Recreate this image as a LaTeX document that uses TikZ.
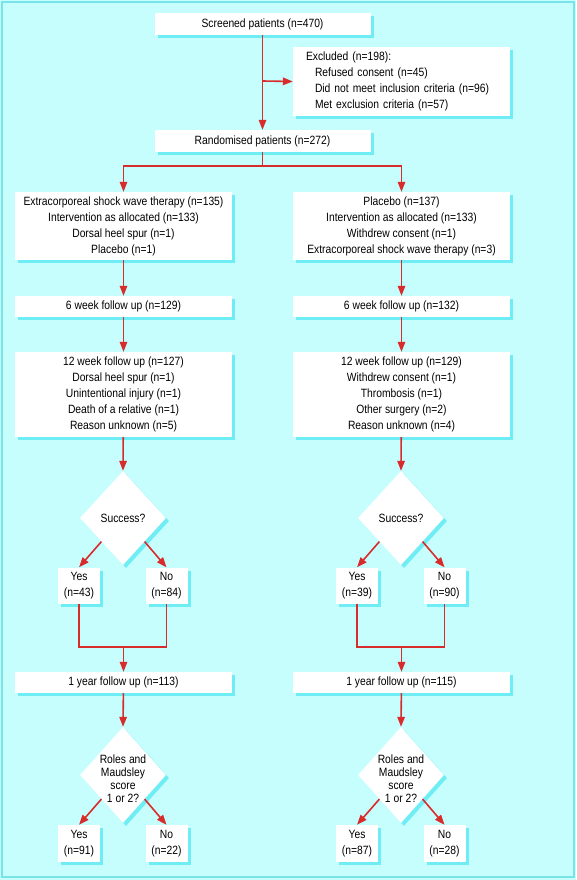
\documentclass[tikz,border=0pt]{standalone}
\usepackage{fontspec}
\setmainfont{Liberation Sans}[FakeStretch=0.86]
\usetikzlibrary{shapes.geometric,arrows.meta,shadows}
\definecolor{bgc}{HTML}{C6FEFE}
\definecolor{shc}{HTML}{6EEEF4}
\definecolor{brc}{HTML}{78E4E8}
\definecolor{arc}{HTML}{D82C2C}
\begin{document}
\begin{tikzpicture}[x=1pt,y=-1pt,
 txt/.style={font=\fontsize{12}{16}\selectfont},
 shad/.style={drop shadow={shadow xshift=3pt,shadow yshift=-3pt,fill=shc,opacity=1}},
 box/.style={txt, fill=white, inner sep=0pt, align=center, shad},
 wbox/.style={box, minimum width=217pt},
 yn/.style={box, minimum width=42pt, minimum height=36pt},
 dia/.style={shape=diamond, fill=white, inner sep=0pt, minimum width=86pt, minimum height=94pt, shad},
 dtxt/.style={font=\fontsize{12}{13}\selectfont, align=center, inner sep=0pt},
 arr/.style={draw=arc, line width=1.6pt, -{Triangle[length=10pt,width=7.5pt]}},
 lnk/.style={draw=arc, line width=1.6pt}]
\useasboundingbox (0,0) rectangle (576,880);
\fill[bgc] (0,0) rectangle (576,880);
\draw[brc, line width=2pt] (2,2) rectangle (574,877);

% top
\node[box, minimum width=216pt, minimum height=22pt] (scr) at (262.5,24) {Screened patients (n=470)};
\node[box, align=left, text width=191pt, inner xsep=13pt, minimum height=69pt] (exc) at (401.5,81.5)
 {Excluded (n=198):\\\hspace*{9pt}Refused consent (n=45)\\\hspace*{9pt}Did not meet inclusion criteria (n=96)\\\hspace*{9pt}Met exclusion criteria (n=57)};
\node[box, minimum width=216pt, minimum height=22pt] (rnd) at (262.5,141) {Randomised patients (n=272)};
\coordinate (b1) at (262.5,81);
\coordinate (sp) at (262.5,166);

% left column
\node[wbox, minimum height=68pt] (l1) at (123.5,226) {Extracorporeal shock wave therapy (n=135)\\Intervention as allocated (n=133)\\Dorsal heel spur (n=1)\\Placebo (n=1)};
\node[wbox, minimum height=21pt] (l6) at (123.5,306.5) {6 week follow up (n=129)};
\node[wbox, minimum height=85pt] (l12) at (123.5,394.5) {12 week follow up (n=127)\\Dorsal heel spur (n=1)\\Unintentional injury (n=1)\\Death of a relative (n=1)\\Reason unknown (n=5)};
\node[dia] (ld1) at (123,518) {};
\node[dtxt] (ld1t) at (ld1) {Success?};
\node[yn] (ly1) at (79,585.5) {Yes\\(n=43)};
\node[yn] (ln1) at (166.5,585.5) {No\\(n=84)};
\coordinate (lm) at (123.5,647);
\node[wbox, minimum height=21pt] (ly) at (123.5,682.5) {1 year follow up (n=113)};
\node[dia, minimum height=96pt] (ld2) at (123,775) {};
\node[dtxt] (ld2t) at (123,779) {Roles and\\Maudsley\\score\\1 or 2?};
\node[yn, minimum height=37pt] (ly2) at (79,843.5) {Yes\\(n=91)};
\node[yn, minimum height=37pt] (ln2) at (166.5,843.5) {No\\(n=22)};

% right column
\node[wbox, minimum height=68pt] (r1) at (401.5,226) {Placebo (n=137)\\Intervention as allocated (n=133)\\Withdrew consent (n=1)\\Extracorporeal shock wave therapy (n=3)};
\node[wbox, minimum height=21pt] (r6) at (401.5,306.5) {6 week follow up (n=132)};
\node[wbox, minimum height=85pt] (r12) at (401.5,394.5) {12 week follow up (n=129)\\Withdrew consent (n=1)\\Thrombosis (n=1)\\Other surgery (n=2)\\Reason unknown (n=4)};
\node[dia] (rd1) at (401,518) {};
\node[dtxt] (rd1t) at (rd1) {Success?};
\node[yn] (ry1) at (357,585.5) {Yes\\(n=39)};
\node[yn] (rn1) at (444.5,585.5) {No\\(n=90)};
\coordinate (rm) at (401.5,647);
\node[wbox, minimum height=21pt] (ry) at (401.5,682.5) {1 year follow up (n=115)};
\node[dia, minimum height=96pt] (rd2) at (401,775) {};
\node[dtxt] (rd2t) at (401,779) {Roles and\\Maudsley\\score\\1 or 2?};
\node[yn, minimum height=37pt] (ry2) at (357,843.5) {Yes\\(n=87)};
\node[yn, minimum height=37pt] (rn2) at (444.5,843.5) {No\\(n=28)};

% connectors top
\draw[arr] (scr) -- (rnd);
\draw[arr] (b1) -- (exc.west);
\draw[lnk] (rnd) -- (sp);
\draw[arr] (sp) -| (l1.north);
\draw[arr] (sp) -| (r1.north);

% left connectors
\draw[arr] (l1) -- (l6);
\draw[arr] (l6) -- (l12);
\draw[arr] (l12) -- (ld1.north);
\draw[arr] (ld1.south west) -- (ly1.north);
\draw[arr] (ld1.south east) -- (ln1.north);
\draw[lnk] (ly1.south) |- (lm) -| (ln1.south);
\draw[arr] (lm) -- (ly.north);
\draw[arr] (ly) -- (ld2.north);
\draw[arr] (ld2.south west) -- (ly2.north);
\draw[arr] (ld2.south east) -- (ln2.north);

% right connectors
\draw[arr] (r1) -- (r6);
\draw[arr] (r6) -- (r12);
\draw[arr] (r12) -- (rd1.north);
\draw[arr] (rd1.south west) -- (ry1.north);
\draw[arr] (rd1.south east) -- (rn1.north);
\draw[lnk] (ry1.south) |- (rm) -| (rn1.south);
\draw[arr] (rm) -- (ry.north);
\draw[arr] (ry) -- (rd2.north);
\draw[arr] (rd2.south west) -- (ry2.north);
\draw[arr] (rd2.south east) -- (rn2.north);
\end{tikzpicture}
\end{document}
